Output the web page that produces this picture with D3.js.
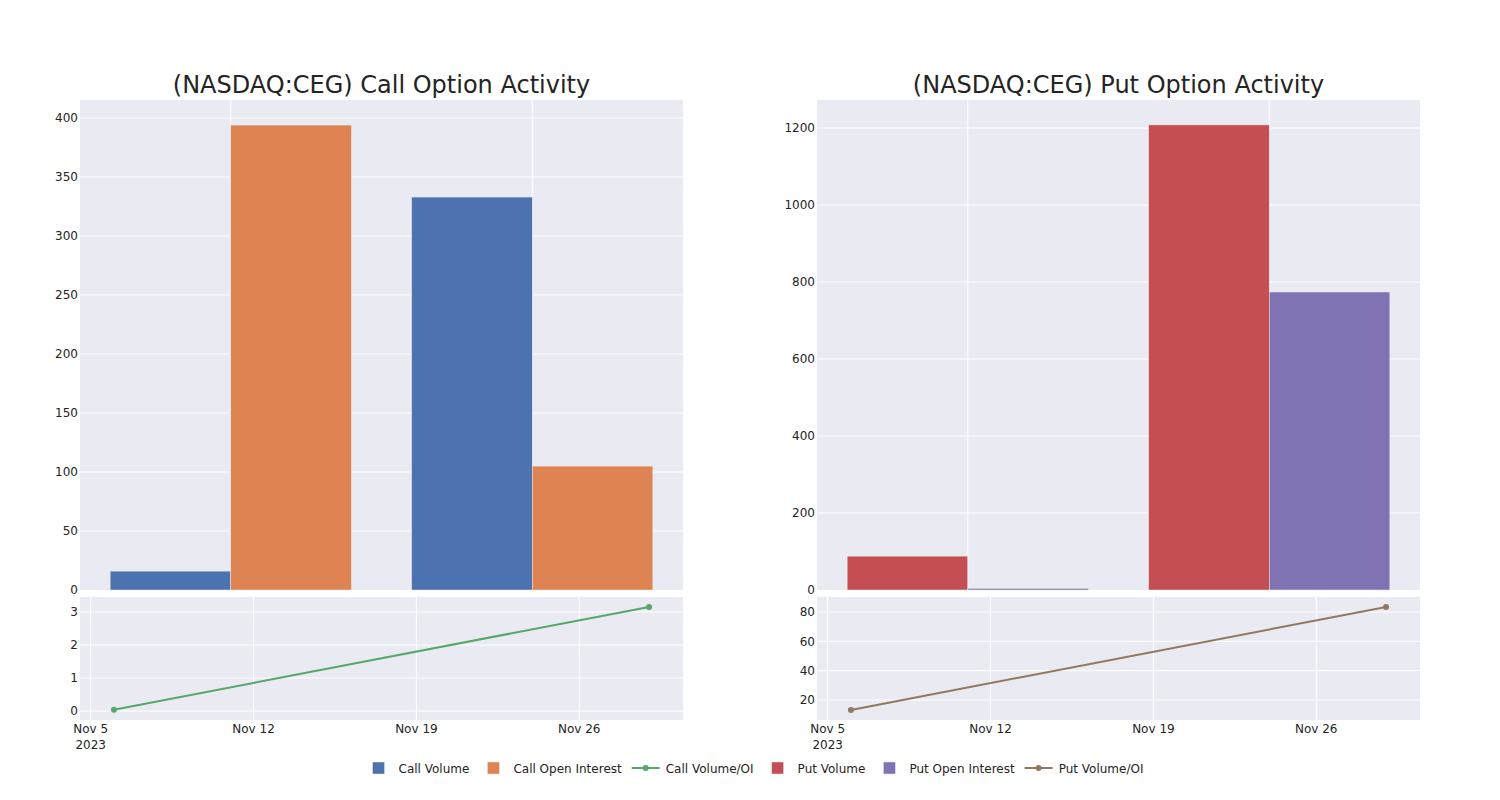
<!DOCTYPE html>
<html>
<head>
<meta charset="utf-8">
<script src="https://cdn.jsdelivr.net/npm/d3@7"></script>
<style>
  body { margin: 0; background: #fff; }
  svg, svg text { font-family: "DejaVu Sans", verdana, arial, sans-serif; }
  .tick text { fill: rgb(36,36,36); }
</style>
</head>
<body>
<div id="chart"></div>
<script>
// data
const dates = ["2023-11-06", "2023-11-29"];
const callVolume = [16, 333];
const callOpenInterest = [394, 105];
const callRatio = [0.04, 3.15];
const putVolume = [88, 1208];
const putOpenInterest = [4, 774];
const putRatio = [13.2, 83.4];

const callTicks = [0, 50, 100, 150, 200, 250, 300, 350, 400];
const putTicks = [0, 200, 400, 600, 800, 1000, 1200];
const callRatioTicks = [0, 1, 2, 3];
const putRatioTicks = [20, 40, 60, 80];

const colors = {
  callVol: "rgb(76,114,176)",
  callOI: "rgb(221,132,82)",
  callRatio: "rgb(85,168,104)",
  putVol: "rgb(196,78,82)",
  putOI: "rgb(129,114,179)",
  putRatio: "rgb(147,120,96)"
};

const W = 1500, H = 800;
const bg = "rgb(234,234,242)";
const parse = d3.timeParse("%Y-%m-%d");
const fontFam = '"DejaVu Sans", verdana, arial, sans-serif';

const svg = d3.select("#chart").append("svg")
  .attr("width", W).attr("height", H);

function panel(opt) {
  const {x0, x1, title, vol, oi, ratio, volColor, oiColor, ratioColor, yMax, yTicks, rDomain, rTicks} = opt;
  const topY0 = 100, topY1 = 590, botY0 = 597, botY1 = 720;

  // ---- top bar chart
  const g = svg.append("g");
  g.append("rect").attr("x", x0).attr("y", topY0).attr("width", x1 - x0).attr("height", topY1 - topY0).attr("fill", bg);

  const scaleY = d3.scaleLinear().domain([0, yMax]).range([topY1, topY0]);
  const scaleX = d3.scaleBand().domain(dates).range([x0, x1]).paddingInner(0.2).paddingOuter(0.1);
  const scaleS = d3.scaleBand().domain(["vol", "oi"]).range([0, scaleX.bandwidth()]);

  g.append("g").selectAll("line").data(yTicks.filter(d => d > 0)).join("line")
    .attr("x1", x0).attr("x2", x1)
    .attr("y1", d => scaleY(d)).attr("y2", d => scaleY(d))
    .attr("stroke", "#fff").attr("stroke-width", 1);
  g.append("g").selectAll("line").data(dates).join("line")
    .attr("x1", d => scaleX(d) + scaleX.bandwidth() / 2).attr("x2", d => scaleX(d) + scaleX.bandwidth() / 2)
    .attr("y1", topY0).attr("y2", topY1)
    .attr("stroke", "#fff").attr("stroke-width", 1);

  const rows = dates.map((d, i) => ({date: d, vol: vol[i], oi: oi[i]}));
  g.append("g").selectAll("g").data(rows).join("g")
    .attr("transform", d => `translate(${scaleX(d.date)},0)`)
    .selectAll("rect")
    .data(d => [{k: "vol", v: d.vol, c: volColor}, {k: "oi", v: d.oi, c: oiColor}])
    .join("rect")
    .attr("x", d => scaleS(d.k))
    .attr("width", scaleS.bandwidth())
    .attr("y", d => scaleY(d.v))
    .attr("height", d => scaleY(0) - scaleY(d.v))
    .attr("fill", d => d.c)
    .attr("stroke", bg).attr("stroke-width", 0.5);

  const axisY = d3.axisLeft(scaleY).tickValues(yTicks).tickFormat(d3.format("d")).tickSize(0).tickPadding(2);
  g.append("g").attr("transform", `translate(${x0},0)`).call(axisY)
    .attr("font-family", fontFam).attr("font-size", 12)
    .call(a => a.select(".domain").remove());

  g.append("text")
    .attr("x", (x0 + x1) / 2).attr("y", 93)
    .attr("text-anchor", "middle")
    .attr("fill", "rgb(36,36,36)")
    .style("font-size", "24px")
    .text(title);

  // ---- bottom ratio chart
  const b = svg.append("g");
  b.append("rect").attr("x", x0).attr("y", botY0).attr("width", x1 - x0).attr("height", botY1 - botY0).attr("fill", bg);

  const scaleT = d3.scaleTime()
    .domain([new Date(2023, 10, 4, 13), new Date(2023, 10, 30, 11)])
    .range([x0, x1]);
  const scaleR = d3.scaleLinear().domain(rDomain).range([botY1, botY0]);
  const tTicks = d3.timeDay.range(new Date(2023, 10, 5), new Date(2023, 10, 27), 7);

  b.append("g").selectAll("line").data(rTicks).join("line")
    .attr("x1", x0).attr("x2", x1)
    .attr("y1", d => scaleR(d)).attr("y2", d => scaleR(d))
    .attr("stroke", "#fff").attr("stroke-width", 1);
  b.append("g").selectAll("line").data(tTicks).join("line")
    .attr("x1", d => scaleT(d)).attr("x2", d => scaleT(d))
    .attr("y1", botY0).attr("y2", botY1)
    .attr("stroke", "#fff").attr("stroke-width", 1);

  const pts = dates.map((d, i) => ({t: parse(d), v: ratio[i]}));
  const line = d3.line().x(d => scaleT(d.t)).y(d => scaleR(d.v));
  b.append("path").datum(pts).attr("d", line)
    .attr("fill", "none").attr("stroke", ratioColor).attr("stroke-width", 2);
  b.append("g").selectAll("circle").data(pts).join("circle")
    .attr("cx", d => scaleT(d.t)).attr("cy", d => scaleR(d.v)).attr("r", 3)
    .attr("fill", ratioColor);

  b.append("g").attr("transform", `translate(${x0},0)`)
    .call(d3.axisLeft(scaleR).tickValues(rTicks).tickFormat(d3.format("d")).tickSize(0).tickPadding(2))
    .attr("font-family", fontFam).attr("font-size", 12)
    .call(a => a.select(".domain").remove());

  const fmt = d3.timeFormat("%b %-d");
  const xl = b.append("g").selectAll("text").data(tTicks).join("text")
    .attr("x", d => scaleT(d)).attr("y", botY1 + 13)
    .attr("text-anchor", "middle")
    .attr("fill", "rgb(36,36,36)")
    .style("font-size", "12px");
  xl.append("tspan").attr("x", d => scaleT(d)).text(fmt);
  xl.filter((d, i) => i === 0).append("tspan")
    .attr("x", d => scaleT(d)).attr("dy", 16).text(d => d3.timeFormat("%Y")(d));
}

panel({
  x0: 80, x1: 683, title: "(NASDAQ:CEG) Call Option Activity",
  vol: callVolume, oi: callOpenInterest, ratio: callRatio,
  volColor: colors.callVol, oiColor: colors.callOI, ratioColor: colors.callRatio,
  yMax: 415.25, yTicks: callTicks, rDomain: [-0.27, 3.45], rTicks: callRatioTicks
});
panel({
  x0: 817, x1: 1420, title: "(NASDAQ:CEG) Put Option Activity",
  vol: putVolume, oi: putOpenInterest, ratio: putRatio,
  volColor: colors.putVol, oiColor: colors.putOI, ratioColor: colors.putRatio,
  yMax: 1272.7, yTicks: putTicks, rDomain: [6.4, 90.2], rTicks: putRatioTicks
});

// ---- legend
const legendItems = [
  {name: "Call Volume", type: "bar", c: colors.callVol},
  {name: "Call Open Interest", type: "bar", c: colors.callOI},
  {name: "Call Volume/OI", type: "line", c: colors.callRatio},
  {name: "Put Volume", type: "bar", c: colors.putVol},
  {name: "Put Open Interest", type: "bar", c: colors.putOI},
  {name: "Put Volume/OI", type: "line", c: colors.putRatio}
];
const legend = svg.append("g");
const ly = 768;
const gap = 24;
let cx = 0;
const items = legend.selectAll("g").data(legendItems).join("g");
items.each(function(d) {
  const it = d3.select(this);
  if (d.type === "bar") {
    it.append("rect").attr("x", -6).attr("y", ly - 6).attr("width", 12).attr("height", 12)
      .attr("fill", d.c).attr("stroke", bg).attr("stroke-width", 0.5);
  } else {
    it.append("line").attr("x1", -14).attr("x2", 14).attr("y1", ly).attr("y2", ly)
      .attr("stroke", d.c).attr("stroke-width", 2);
    it.append("circle").attr("cx", 0).attr("cy", ly).attr("r", 3).attr("fill", d.c);
  }
  const t = it.append("text").attr("x", 20).attr("y", ly + 4.5)
    .attr("fill", "rgb(36,36,36)").style("font-size", "12px").text(d.name);
  d.w = t.node().getComputedTextLength();
});
items.each(function(d) {
  d.cx = cx;
  cx += 20 + d.w + gap;
});
const total = cx - gap + 6;
const startX = 758 - total / 2 + 6;
items.attr("transform", d => `translate(${startX + d.cx},0)`);
</script>
</body>
</html>
